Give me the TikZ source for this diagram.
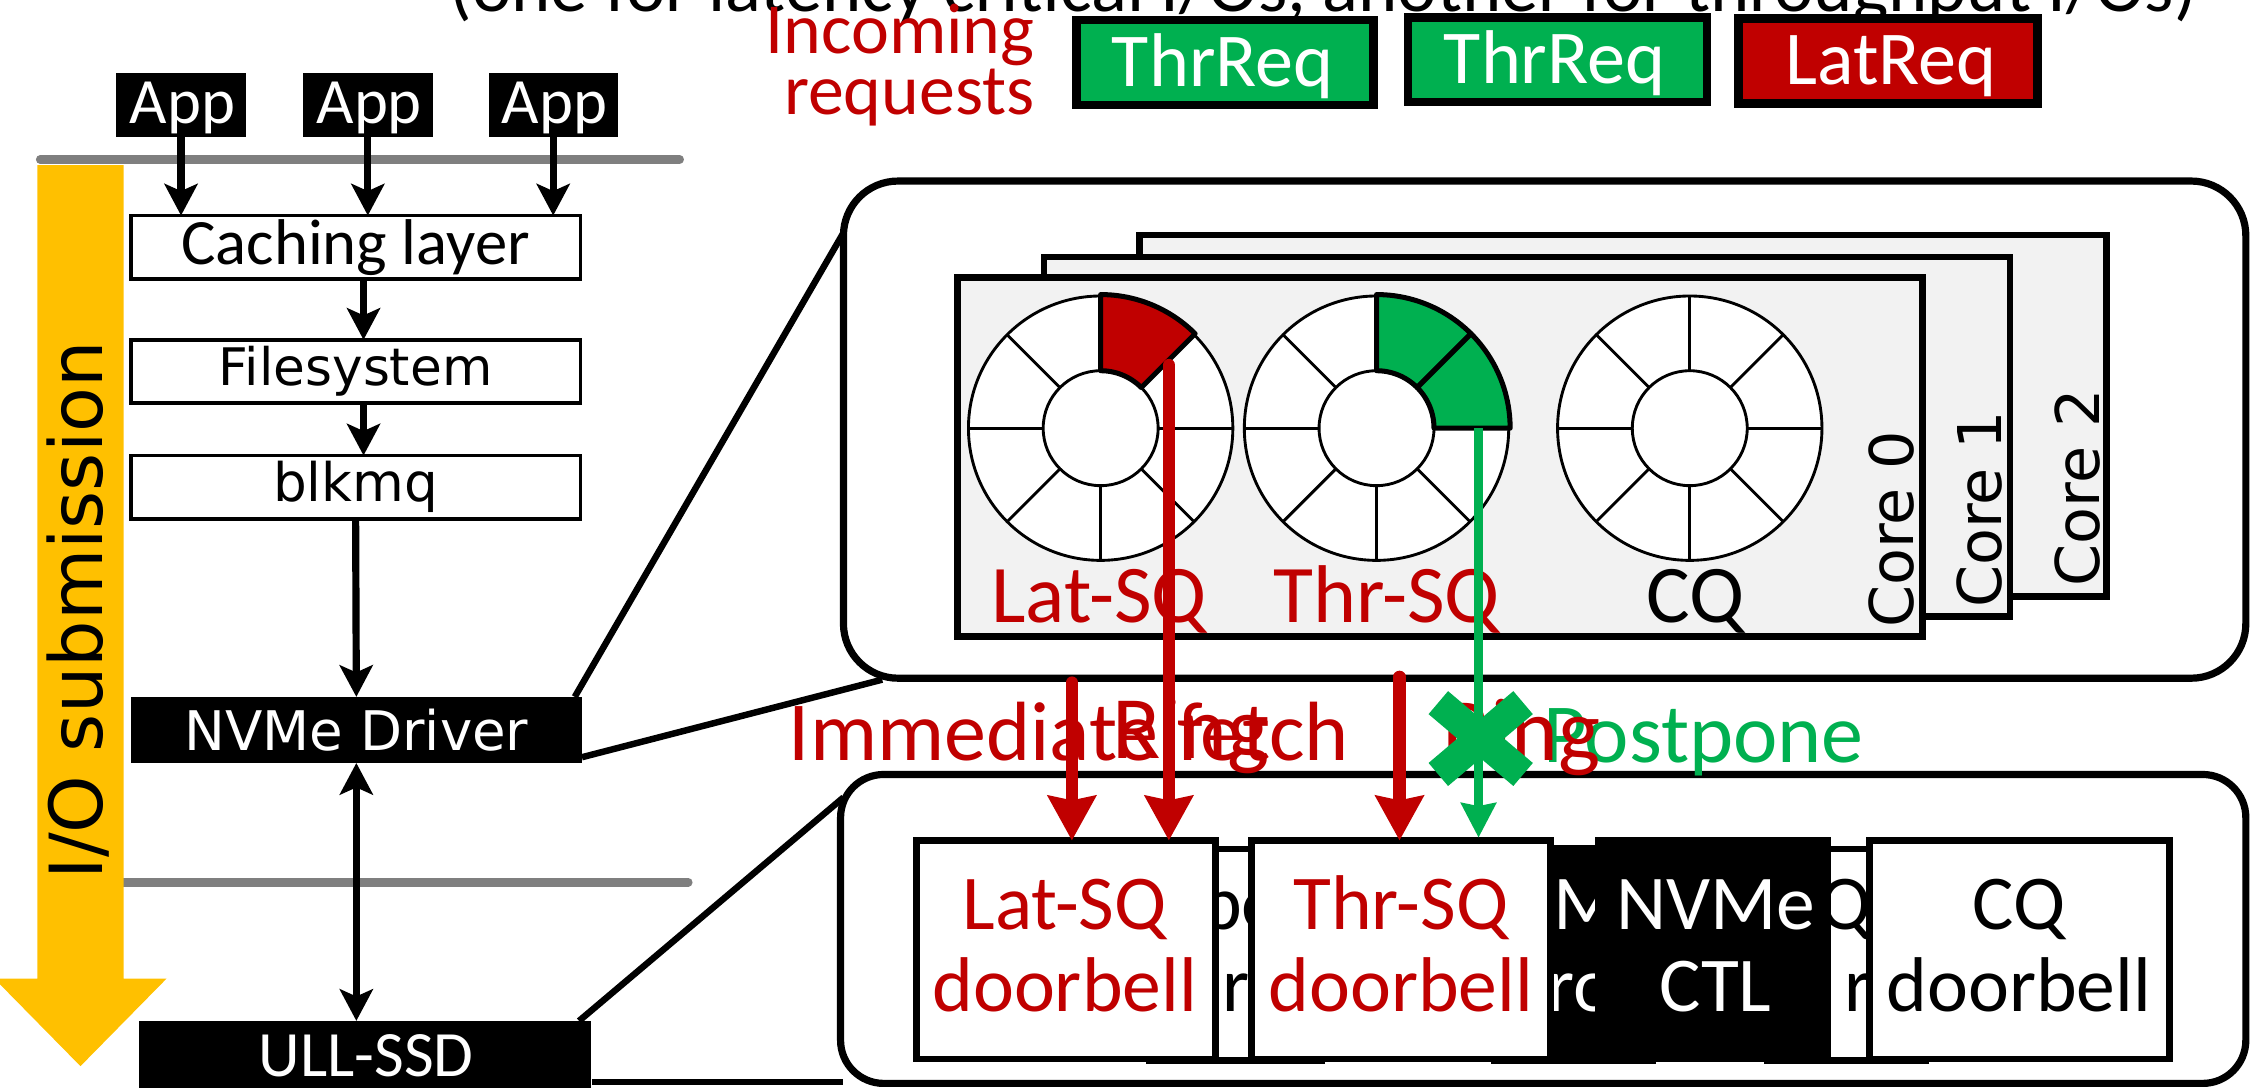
\documentclass[tikz,border=0pt]{standalone}
\usepackage{fontspec}
\setmainfont{Carlito}
\newfontfamily\dvs{DejaVu Sans}
\usetikzlibrary{arrows.meta,calc}
\definecolor{cRed}{HTML}{C00000}
\definecolor{cGreen}{HTML}{00B050}
\definecolor{cYellow}{HTML}{FFC000}
\definecolor{cGray}{HTML}{7F7F7F}
\definecolor{cCore}{HTML}{F2F2F2}
\newcommand\fs[1]{\fontsize{#1}{#1}\selectfont}
% queue ring: outer circle, eight spokes, inner circle
\newcommand\qring[2]{%
  \draw[ringline, fill=white] (#1,#2) circle[radius=92];
  \foreach \a in {0,45,...,315}
    \draw[ringline] ({#1+40*cos(\a)},{#2-40*sin(\a)}) -- ({#1+92*cos(\a)},{#2-92*sin(\a)});
  \draw[ringline, fill=white] (#1,#2) circle[radius=40];
}
% filled ring slot between two angles
\newcommand\qslot[5]{%
  \filldraw[fill=#5, draw=black, line width=3.5, line join=round]
    plot[domain=#3:#4, samples=24] ({#1+93*cos(\x)},{#2-93*sin(\x)})
    -- plot[domain=#4:#3, samples=24] ({#1+40*cos(\x)},{#2-40*sin(\x)}) -- cycle;
}
\begin{document}
\begin{tikzpicture}[x=1pt,y=-1pt,
  every node/.style={inner sep=0pt, outer sep=0pt},
  appbox/.style={fill=black, minimum width=90, minimum height=44},
  apptxt/.style={anchor=base, text=white, font=\fs{45}},
  stackbox/.style={draw=black, line width=2.5, fill=white, minimum width=313, minimum height=44},
  drvbox/.style={fill=black, text=white, minimum width=314},
  karr/.style={line width=5, -{Stealth[length=22pt,width=23pt,inset=5pt]}},
  kdarr/.style={line width=5, {Stealth[length=22pt,width=23pt,inset=5pt]}-{Stealth[length=22pt,width=23pt,inset=5pt]}},
  grayline/.style={draw=cGray, line width=6, line cap=round},
  zline/.style={line width=4.5},
  bigbox/.style={draw=black, line width=5, fill=white},
  coreframe/.style={draw=black, line width=4.5, fill=cCore},
  corelbl/.style={rotate=90, anchor=base west, font=\dvs\fs{42}},
  ringline/.style={draw=black, line width=2},
  qlbl/.style={anchor=base, font=\fs{57}},
  reqbox/.style={draw=black, line width=6, minimum width=207, minimum height=59},
  reqtxt/.style={anchor=base, text=white, font=\fs{53}},
  dbbox/.style={draw=black, line width=4.5, fill=white, minimum width=208, minimum height=152},
  dbtxt/.style={anchor=base, font=\fs{54}},
  rarr/.style={draw=cRed, line width=8.5, line cap=round, -{Stealth[length=31pt,width=33pt,inset=3pt]}},
  garr/.style={draw=cGreen, line width=6, -{Stealth[length=24pt,width=24pt,inset=2pt]}},
  lbl/.style={anchor=base west, font=\fs{58.5}},
]
\useasboundingbox (0,0) rectangle (1568,757);

% ---------------- software stack ----------------
\draw[grayline] (28,111) -- (473,111);
\draw[grayline] (40,614) -- (479,614);

\node[appbox] (app1) at (126,73) {};
\node[apptxt] (app1t) at (127,86) {App};
\node[appbox] (app2) at (256,73) {};
\node[apptxt] (app2t) at (257,86) {App};
\node[appbox] (app3) at (385,73) {};
\node[apptxt] (app3t) at (386,86) {App};

\node[stackbox, font=\fs{45}] (cache) at (247.5,172) {Caching layer};
\node[stackbox, font=\dvs\fs{36}] (fsys) at (247.5,258.5) {Filesystem};
\node[stackbox, font=\dvs\fs{37}] (blk) at (247.5,339) {blkmq};
\node[drvbox, minimum height=46, font=\dvs\fs{38}] (drv) at (248,508) {NVMe Driver};
\node[drvbox, minimum height=60] (ssd) at (254,740.5) {};
\node[anchor=base, text=white, font=\fs{45}] (ssdt) at (255,749) {ULL-SSD};

\coordinate (colA) at (253,0);
\draw[karr] (app1.south) -- (app1.south |- cache.north);
\draw[karr] (app2.south) -- (app2.south |- cache.north);
\draw[karr] (app3.south) -- (app3.south |- cache.north);
\draw[karr] (cache.south -| colA) -- (fsys.north -| colA);
\draw[karr] (fsys.south -| colA) -- (blk.north -| colA);
\draw[karr] (blk.south) -- (drv.north);
\draw[kdarr] (drv.south) -- (drv.south |- ssd.north);

% submission direction
\fill[cYellow] (26,115) -- (86,115) -- (86,681) -- (116,681) -- (56,742)
  -- (-4,681) -- (26,681) -- cycle;
\node[rotate=90, anchor=base west, font=\dvs\fs{51}] (iosub) at (71,612) {I/O submission};

% ---------------- host side ----------------
\node[bigbox, rounded corners=38, minimum width=976, minimum height=346] (host) at (1075,299) {};
\node[bigbox, rounded corners=30, minimum width=978, minimum height=215] (dev) at (1074,646.5) {};

\coordinate (hostTL) at (587,162);
\coordinate (hostBL) at (614,473);
\coordinate (devL) at (587,555);
\coordinate (devB) at (587,753);
\coordinate (ssdB) at (412,753);
\draw[zline] ($(drv.north east)+(-5,0)$) -- (hostTL);
\draw[zline] ($(drv.south east)+(0,-4)$) -- (hostBL);
\draw[zline] ($(ssd.north east)+(-8,0)$) -- (devL);
\draw[zline] (ssdB) -- (devB);

\node[coreframe, minimum width=673, minimum height=251.5] (core2) at (1129.5,289.25) {};
\node[corelbl] (c2lbl) at (1461,408) {Core 2};
\node[coreframe, minimum width=672.5, minimum height=250] (core1) at (1062.75,304) {};
\node[corelbl] (c1lbl) at (1393,423) {Core 1};
\node[coreframe, minimum width=671.5, minimum height=250] (core0) at (1002.25,318) {};
\node[corelbl] (c0lbl) at (1332,437) {Core 0};

\qring{766}{298}
\qring{958}{298}
\qring{1176}{298}
\qslot{766}{298}{45}{90}{cRed}
\qslot{958}{298}{45}{90}{cGreen}
\qslot{958}{298}{0}{45}{cGreen}

\node[qlbl, text=cRed] (latq) at (765,433) {Lat-SQ};
\node[qlbl, text=cRed] (thrq) at (965,433) {Thr-SQ};
\node[qlbl] (cq) at (1180,433) {CQ};

% ---------------- device side ----------------
\draw[draw=black, line width=4.5, fill=white] (800,591) rectangle (920,738);
\node[dbtxt, anchor=base west] (f1a) at (836,647) {be};
\node[dbtxt, anchor=base west] (f1b) at (851,704) {r};
\draw[draw=black, line width=4.5, fill=black] (1040,590) rectangle (1150,738);
\node[dbtxt, anchor=base west, text=white] (f2a) at (1081,647) {M};
\node[dbtxt, anchor=base west, text=white] (f2b) at (1077,704) {ro};
\draw[draw=black, line width=4.5, fill=white] (1230,591) rectangle (1340,738);
\node[dbtxt, anchor=base west] (f3a) at (1266,647) {Q};
\node[dbtxt, anchor=base west] (f3b) at (1284,704) {r};

\node[dbbox] (lsq) at (742,661) {};
\node[dbtxt, text=cRed] (lsq1) at (741,647) {Lat-SQ};
\node[dbtxt, text=cRed] (lsq2) at (741,704) {doorbell};
\node[dbbox] (tsq) at (975,661) {};
\node[dbtxt, text=cRed] (tsq1) at (975,647) {Thr-SQ};
\node[dbtxt, text=cRed] (tsq2) at (975,704) {doorbell};
\node[dbbox, fill=black, minimum width=160] (ctl) at (1192,661) {};
\node[dbtxt, text=white] (ctl1) at (1194,647) {NVMe};
\node[dbtxt, text=white] (ctl2) at (1194,704) {CTL};
\node[dbbox, minimum width=209] (cqd) at (1405.5,661) {};
\node[dbtxt] (cqd1) at (1405,647) {CQ};
\node[dbtxt] (cqd2) at (1405,704) {doorbell};

% ---------------- labels and paths between the two ----------------
\node[lbl, text=cRed] (imm) at (549,529) {Immediate fetch};
\node[lbl, text=cGreen] (post) at (1074,531) {Postpone};
\node[lbl, text=cRed, font=\fs{62}] (ring1) at (774,528) {Ring};
\node[lbl, text=cRed, font=\fs{62}] (ring2) at (1004,529) {Ring};

\coordinate (a1s) at (746,475);
\coordinate (a2s) at (813.5,254);
\coordinate (a3s) at (974,471);
\coordinate (g1s) at (1029,298);
\draw[rarr] (a1s) -- (a1s |- lsq.north);
\draw[rarr] (a2s) -- (a2s |- lsq.north);
\draw[rarr] (a3s) -- (a3s |- tsq.north);
\draw[garr] (g1s) -- ($(g1s |- tsq.north)+(0,-2)$);
\draw[cGreen, line width=21] (1001,489) -- (1060,539) (1060,489) -- (1001,539);

% ---------------- incoming requests ----------------
\node[anchor=base west, font=\fs{52}] (note) at (313,8) {(one for latency critical I/Os, another for throughput I/Os)};
\node[anchor=base east, text=cRed, font=\fs{50}] (inc1) at (720,37) {Incoming};
\node[anchor=base east, text=cRed, font=\fs{50}] (inc2) at (720,80) {requests};

\node[reqbox, fill=cGreen] (thr1) at (852.5,43.5) {};
\node[reqtxt] (thr1t) at (851,60) {ThrReq};
\node[reqbox, fill=cGreen, minimum width=208] (thr2) at (1084,41.5) {};
\node[reqtxt] (thr2t) at (1082,58) {ThrReq};
\node[reqbox, fill=cRed, minimum width=208] (lat1) at (1314,42.5) {};
\node[reqtxt] (lat1t) at (1316,59) {LatReq};
\end{tikzpicture}
\end{document}
